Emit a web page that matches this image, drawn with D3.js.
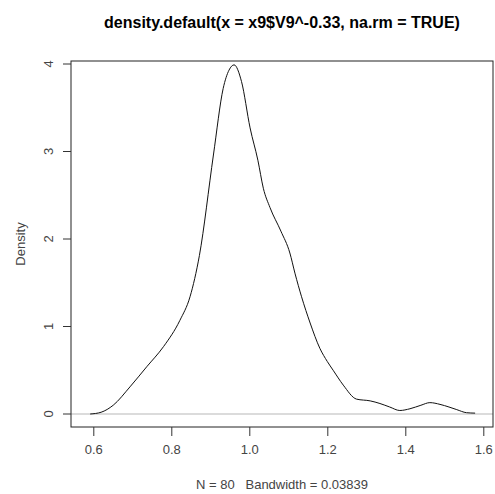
<!DOCTYPE html>
<html>
<head>
<meta charset="utf-8">
<script src="https://cdn.jsdelivr.net/npm/d3@7"></script>
<style>
  body { margin: 0; background: #fff; }
  text { font-family: "Liberation Sans", Arial, sans-serif; }
</style>
</head>
<body>
<svg class="svg1" width="495" height="494"></svg>
<script>
// density curve
const densX = [0.592, 0.62, 0.651, 0.694, 0.737, 0.78, 0.822, 0.848, 0.872, 0.908, 0.933, 0.948, 0.961,
  0.980, 1.002, 1.022, 1.036, 1.053, 1.081, 1.104, 1.117, 1.134, 1.156, 1.181, 1.2, 1.215, 1.241, 1.275,
  1.31, 1.335, 1.36, 1.386, 1.412, 1.44, 1.463, 1.489, 1.512, 1.532, 1.557, 1.579];
const densY = [0.0, 0.02, 0.1, 0.31, 0.54, 0.77, 1.07, 1.34, 1.81, 2.96, 3.72, 3.93, 3.99,
  3.80, 3.27, 2.9, 2.58, 2.36, 2.09, 1.84, 1.61, 1.34, 1.04, 0.75, 0.6, 0.5, 0.33, 0.17,
  0.15, 0.12, 0.08, 0.04, 0.06, 0.1, 0.13, 0.11, 0.08, 0.05, 0.015, 0.01];
const xTicks = [0.6, 0.8, 1.0, 1.2, 1.4, 1.6];
const yTicks = [0, 1, 2, 3, 4];
const title = "density.default(x = x9$V9^-0.33, na.rm = TRUE)";
const xLabel = "N = 80   Bandwidth = 0.03839";
const yLabel = "Density";

const boxLeft = 71, boxRight = 493, boxTop = 61, boxBottom = 427;

const xScale = d3.scaleLinear().domain([0.6, 1.6]).range([93.3, 483.3]);
const yScale = d3.scaleLinear().domain([0, 4]).range([414, 64]);

const svg = d3.select(".svg1");

// zero line
svg.append("line")
  .attr("x1", boxLeft).attr("x2", boxRight)
  .attr("y1", yScale(0)).attr("y2", yScale(0))
  .attr("stroke", "#cfcfcf").attr("stroke-width", 1.3);

// curve
svg.append("path")
  .datum(densX.map((x, i) => [x, densY[i]]))
  .attr("fill", "none")
  .attr("stroke", "#111")
  .attr("stroke-width", 1)
  .attr("d", d3.line().x(d => xScale(d[0])).y(d => yScale(d[1])).curve(d3.curveMonotoneX));

// box
svg.append("rect")
  .attr("x", boxLeft).attr("y", boxTop)
  .attr("width", boxRight - boxLeft).attr("height", boxBottom - boxTop)
  .attr("fill", "none").attr("stroke", "#222").attr("stroke-width", 1);

// x axis
const xAxis = d3.axisBottom(xScale).tickValues(xTicks).tickFormat(d3.format(".1f")).tickSize(9).tickPadding(9);
const gx = svg.append("g").attr("transform", `translate(0,${boxBottom})`).call(xAxis);
gx.select(".domain").remove();
gx.selectAll("line").attr("stroke", "#333");
gx.selectAll("text").attr("font-size", 13).attr("fill", "#444").attr("font-family", "Liberation Sans, Arial, sans-serif");

// y axis
const yAxis = d3.axisLeft(yScale).tickValues(yTicks).tickFormat(d3.format("d")).tickSize(8);
const gy = svg.append("g").attr("transform", `translate(${boxLeft},0)`).call(yAxis);
gy.select(".domain").remove();
gy.selectAll(".tick").attr("transform", null);
gy.selectAll(".tick line").attr("stroke", "#333").attr("y1", d => yScale(d)).attr("y2", d => yScale(d));
gy.selectAll(".tick text")
  .attr("font-size", 13).attr("fill", "#444")
  .attr("font-family", "Liberation Sans, Arial, sans-serif")
  .attr("x", 0).attr("y", 0).attr("dy", null)
  .attr("text-anchor", "middle")
  .attr("dominant-baseline", "central")
  .attr("transform", d => `translate(-23,${yScale(d)}) rotate(-90)`);

// labels
svg.append("text")
  .attr("x", (boxLeft + boxRight) / 2).attr("y", 28)
  .attr("text-anchor", "middle")
  .attr("font-size", 16).attr("font-weight", "bold").attr("fill", "#000")
  .text(title);

svg.append("text")
  .attr("x", (boxLeft + boxRight) / 2).attr("y", 489)
  .attr("text-anchor", "middle")
  .attr("font-size", 13).attr("fill", "#444")
  .style("white-space", "pre")
  .text(xLabel);

svg.append("text")
  .attr("transform", `translate(25,${(boxTop + boxBottom) / 2}) rotate(-90)`)
  .attr("text-anchor", "middle")
  .attr("font-size", 13).attr("fill", "#444")
  .text(yLabel);
</script>
</body>
</html>
